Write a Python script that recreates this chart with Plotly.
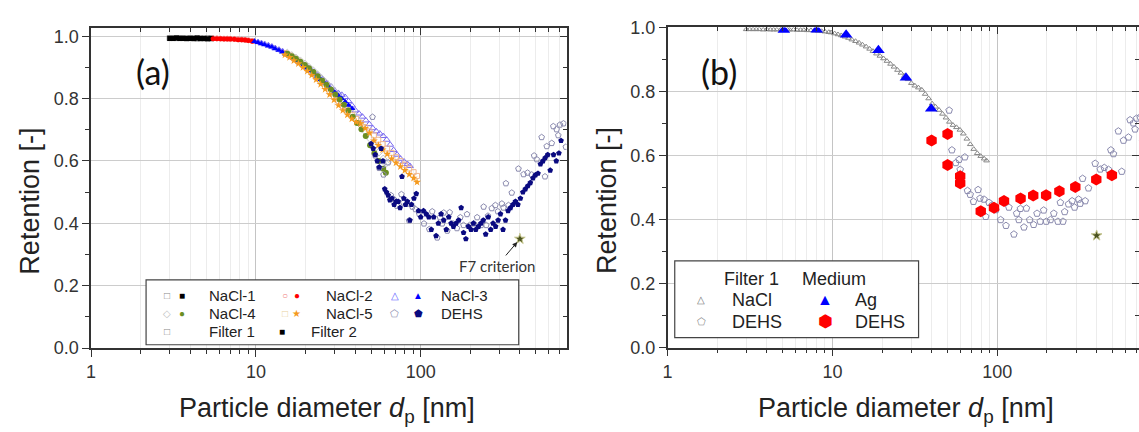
import math
import plotly.graph_objects as go

W, H = 1139, 432
ARIAL = "Liberation Sans, Arial, sans-serif"
CAL = "Lato, Carlito, sans-serif"

# ---------------- data ----------------
# NaCl-1 (black), Filter 1 open / Filter 2 filled
nacl1_d = [3.0, 3.15, 3.3, 3.45, 3.6, 3.8, 4.0, 4.2, 4.4, 4.6, 4.85, 5.1, 5.35]
nacl1_f1 = [0.994, 0.994, 0.994, 0.994, 0.994, 0.993, 0.994, 0.993, 0.993, 0.993, 0.993, 0.993, 0.993]
nacl1_f2 = [0.993, 0.993, 0.994, 0.993, 0.993, 0.993, 0.993, 0.993, 0.994, 0.993, 0.993, 0.992, 0.993]
# NaCl-2 (red)
nacl2_d = [5.5, 5.8, 6.1, 6.4, 6.7, 7.0, 7.4, 7.8, 8.2, 8.6, 9.0, 9.5]
nacl2_f1 = [0.993, 0.993, 0.992, 0.992, 0.992, 0.991, 0.991, 0.990, 0.989, 0.988, 0.987, 0.985]
nacl2_f2 = [0.992, 0.992, 0.992, 0.991, 0.991, 0.991, 0.990, 0.989, 0.989, 0.988, 0.986, 0.984]
# NaCl-3 (blue)
nacl3_d_f1 = [9.8, 10.3, 10.8, 11.3, 11.9, 12.5, 13.1, 13.8, 14.5, 15.2, 16.0, 16.8, 17.6, 18.5,
              19.4, 20.4, 21.4, 22.5, 23.6, 24.8, 26.0, 27.3, 28.7, 30.1, 31.6, 33.2, 34.8, 36.5,
              38.3, 40.2, 42.2, 44.3, 46.5, 48.8, 51.2, 53.8, 56.5, 59.3, 62.2, 65.3, 68.5, 71.9,
              75.5, 79.3, 83.2, 86.0]
nacl3_f1 = [0.984, 0.981, 0.978, 0.975, 0.971, 0.967, 0.962, 0.957, 0.952, 0.946, 0.940, 0.933,
            0.926, 0.918, 0.911, 0.903, 0.895, 0.886, 0.877, 0.867, 0.858, 0.848, 0.838, 0.826,
            0.818, 0.812, 0.805, 0.792, 0.778, 0.762, 0.752, 0.742, 0.730, 0.718, 0.705, 0.695,
            0.688, 0.680, 0.668, 0.652, 0.635, 0.620, 0.607, 0.598, 0.590, 0.584]
nacl3_d_f2 = [9.8, 10.3, 10.8, 11.3, 11.9, 12.5, 13.1, 13.8, 14.5, 15.2, 16.0, 16.8, 17.6, 18.5,
              19.4, 20.4, 21.4, 22.5, 23.6, 24.8, 26.0, 27.3, 28.7, 30.1, 31.6, 33.2, 34.8, 36.5,
              38.3]
nacl3_f2 = [0.983, 0.980, 0.976, 0.973, 0.969, 0.965, 0.960, 0.955, 0.949, 0.943, 0.937, 0.930,
            0.922, 0.914, 0.906, 0.898, 0.889, 0.880, 0.870, 0.861, 0.851, 0.841, 0.830, 0.820,
            0.810, 0.800, 0.790, 0.779, 0.768]
# NaCl-4 (olive)
nacl4_d = [15.5, 16.5, 17.5, 18.6, 19.8, 21.0, 22.3, 23.7, 25.2, 26.8, 28.5, 30.3, 32.2, 34.2,
           36.4, 38.7, 41.1, 43.7, 46.4, 49.3, 52.4, 55.7, 59.2, 61.5]
nacl4_f1 = [0.946, 0.938, 0.930, 0.921, 0.911, 0.900, 0.889, 0.876, 0.863, 0.849, 0.835, 0.820,
            0.804, 0.788, 0.771, 0.752, 0.733, 0.714, 0.694, 0.672, 0.650, 0.628, 0.606, 0.592]
nacl4_f2 = [0.944, 0.936, 0.928, 0.918, 0.908, 0.897, 0.885, 0.872, 0.858, 0.844, 0.829, 0.813,
            0.797, 0.780, 0.762, 0.742, 0.722, 0.702, 0.680, 0.650, 0.625, 0.600, 0.575, 0.562]
# NaCl-5 (orange)
nacl5_d = [15.0, 16.0, 17.0, 18.1, 19.3, 20.5, 21.8, 23.2, 24.7, 26.3, 28.0, 29.8, 31.7, 33.7,
           35.9, 38.2, 40.6, 43.2, 46.0, 48.9, 52.0, 55.3, 58.8, 62.6, 66.6, 70.8, 75.3, 80.1,
           85.2, 90.6, 95.0]
nacl5_f1 = [0.946, 0.938, 0.929, 0.919, 0.908, 0.896, 0.884, 0.870, 0.856, 0.840, 0.824, 0.808,
            0.792, 0.776, 0.762, 0.748, 0.735, 0.722, 0.708, 0.695, 0.682, 0.668, 0.654, 0.640,
            0.626, 0.612, 0.600, 0.588, 0.576, 0.564, 0.552]
nacl5_f2 = [0.940, 0.932, 0.922, 0.912, 0.900, 0.888, 0.875, 0.861, 0.846, 0.830, 0.813, 0.796,
            0.778, 0.762, 0.748, 0.735, 0.725, 0.720, 0.705, 0.690, 0.665, 0.650, 0.636, 0.622,
            0.607, 0.594, 0.582, 0.570, 0.557, 0.545, 0.532]
# DEHS, Filter 1 (open)
dehs_f1_d = [51, 53, 56, 58.6, 59.5, 63.5, 65.9, 68.4, 71.6, 76.4, 78.5, 83, 85, 89, 93, 98,
             104.7, 112.8, 117.5, 126, 131, 135, 138, 145, 150, 157, 166, 174, 182, 191, 198,
             210, 220, 233, 241, 250, 256, 270, 284, 294, 311, 318, 329, 341, 357, 392, 421,
             445, 472, 488, 506, 542, 568, 582, 624, 638, 668, 684, 700, 735, 760]
dehs_f1 = [0.741, 0.617, 0.577, 0.587, 0.556, 0.595, 0.490, 0.478, 0.456, 0.493, 0.466, 0.463,
           0.409, 0.453, 0.445, 0.430, 0.399, 0.381, 0.438, 0.354, 0.419, 0.399, 0.434, 0.376,
           0.435, 0.399, 0.384, 0.419, 0.394, 0.429, 0.394, 0.399, 0.419, 0.394, 0.453, 0.394,
           0.424, 0.448, 0.458, 0.438, 0.463, 0.450, 0.528, 0.458, 0.498, 0.575, 0.557, 0.562,
           0.556, 0.617, 0.605, 0.676, 0.550, 0.647, 0.657, 0.711, 0.701, 0.682, 0.716, 0.720,
           0.645]
# DEHS, Filter 2 (filled navy)
dehs_f2_d = [50, 51.5, 53, 54.5, 56, 57.5, 59, 60.5, 62, 63.5, 65, 67, 69, 71, 73, 75, 77, 79,
             81, 83, 86, 88, 91, 94, 97, 100, 104, 108, 112, 116, 120, 124, 128, 133, 138, 143,
             148, 153, 158, 164, 170, 176, 182, 188, 195, 202, 209, 216, 224, 232, 240, 248,
             257, 266, 275, 285, 295, 305, 316, 327, 339, 351, 363, 376, 389, 403, 417, 432,
             447, 463, 480, 497, 515, 533, 552, 570, 590, 611, 640, 665, 690, 711]
dehs_f2 = [0.655, 0.640, 0.620, 0.600, 0.580, 0.640, 0.600, 0.510, 0.500, 0.490, 0.475, 0.480,
           0.460, 0.470, 0.470, 0.450, 0.550, 0.480, 0.460, 0.470, 0.410, 0.460, 0.480, 0.495,
           0.440, 0.420, 0.440, 0.430, 0.420, 0.380, 0.420, 0.360, 0.400, 0.430, 0.410, 0.380,
           0.420, 0.400, 0.390, 0.400, 0.410, 0.450, 0.370, 0.350, 0.390, 0.380, 0.400, 0.380,
           0.390, 0.400, 0.410, 0.365, 0.420, 0.380, 0.400, 0.390, 0.410, 0.430, 0.380, 0.410,
           0.440, 0.450, 0.460, 0.470, 0.460, 0.480, 0.500, 0.510, 0.520, 0.530, 0.545, 0.555,
           0.560, 0.590, 0.600, 0.610, 0.620, 0.570, 0.620, 0.600, 0.625, 0.665]
# Panel (b): test medium
ag_d = [5.07, 8.03, 12.1, 19.0, 27.9, 39.7]
ag_r = [0.992, 0.993, 0.977, 0.929, 0.843, 0.746]
dehs_med_d = [39.9, 49.9, 49.9, 59.5, 59.5, 79.3, 95.4, 109.7, 138.3, 165, 197.6, 237.8, 297, 398, 495]
dehs_med_r = [0.647, 0.667, 0.570, 0.535, 0.513, 0.426, 0.437, 0.458, 0.466, 0.475, 0.476, 0.488,
              0.502, 0.525, 0.538]
# F7 criterion
f7_d = [400]
f7_r = [0.35]

# Panel (b) NaCl Filter 1 = combined Filter-1 NaCl data
nacl_f1b_d = nacl1_d + nacl2_d + nacl3_d_f1
nacl_f1b = nacl1_f1 + nacl2_f1 + nacl3_f1

# ---------------- figure ----------------
fig = go.Figure()


def add(x, y, sym, size, color, xa, ya, lw=1, lc=None):
    fig.add_trace(go.Scatter(
        x=x, y=y, mode="markers", xaxis=xa, yaxis=ya, showlegend=False, hoverinfo="skip",
        marker=dict(symbol=sym, size=size, color=color,
                    line=dict(width=lw, color=lc if lc else color))))


# panel (a)
add(nacl1_d, nacl1_f1, "square-open", 5, "#777777", "x", "y")
add(nacl3_d_f1, nacl3_f1, "triangle-up-open", 6, "#7b6cf0", "x", "y")
add(nacl4_d, nacl4_f1, "diamond-open", 6, "#c8c8c8", "x", "y")
add(nacl5_d, nacl5_f1, "square-open", 5, "#f0b890", "x", "y")
add(nacl2_d, nacl2_f1, "circle-open", 5, "#f08080", "x", "y")
add(nacl1_d, nacl1_f2, "square", 5, "#000000", "x", "y", 0)
add(nacl2_d, nacl2_f2, "circle", 5, "#ff0000", "x", "y", 0)
add(nacl3_d_f2, nacl3_f2, "triangle-up", 6, "#0000ff", "x", "y", 0)
add(nacl4_d, nacl4_f2, "circle", 6, "#6b8e23", "x", "y", 0)
add(nacl5_d, nacl5_f2, "star", 6, "#f59a1e", "x", "y", 0)
add(dehs_f1_d, dehs_f1, "pentagon-open", 6, "#8a8aae", "x", "y")
add(dehs_f2_d, dehs_f2, "pentagon", 6, "#0a0a80", "x", "y", 0)
add(f7_d, f7_r, "star", 8, "#4b5320", "x", "y", 1, "#c8c890")

# panel (b)
add(nacl_f1b_d, nacl_f1b, "triangle-up-open", 5, "#888888", "x2", "y2")
add(dehs_f1_d, dehs_f1, "pentagon-open", 7, "#8a8aae", "x2", "y2")
add(ag_d, ag_r, "triangle-up", 11, "#0000ff", "x2", "y2", 0)
add(dehs_med_d, dehs_med_r, "hexagon", 12, "#ff0000", "x2", "y2", 0)
add(f7_d, f7_r, "star", 8, "#4b5320", "x2", "y2", 1, "#c8c890")

# empty traces so that the inward mirror-tick axes exist
fig.add_trace(go.Scatter(x=[], y=[], xaxis="x3", yaxis="y3", showlegend=False))
fig.add_trace(go.Scatter(x=[], y=[], xaxis="x4", yaxis="y4", showlegend=False))

minor_vals = [m * 10 ** e for e in range(3) for m in range(2, 10)]
XR_A = [0, 2.885]
XR_B = [0, 2.859]
YR_A = [0, 1.025]
YR_B = [0, 1.0]
DOM_XA = [86.5 / W, 564 / W]
DOM_XB = [665.5 / W, 1.0]
DOM_YA = [1 - 354.5 / H, 1 - 19.3 / H]
DOM_YB = [1 - 354 / H, 1 - 18.3 / H]
AX = "#333333"


def xmain(rng, dom, anchor):
    return dict(type="log", range=rng, domain=dom, anchor=anchor, showline=True, linecolor=AX,
                linewidth=1.5, mirror=True, ticks="outside", ticklen=7, tickwidth=1.2,
                tickcolor=AX, tickvals=[1, 10, 100], ticktext=["1", "10", "100"],
                showgrid=True, gridcolor="#c4c4c4", gridwidth=1, zeroline=False,
                tickfont=dict(family=ARIAL, size=18, color="#333"),
                minor=dict(tickvals=minor_vals, ticks="outside", ticklen=4, tickcolor=AX,
                           showgrid=True, gridcolor="#ececec", gridwidth=1))


def ymain(rng, dom, anchor, mirror=True):
    return dict(range=rng, domain=dom, anchor=anchor, showline=True, linecolor=AX,
                linewidth=1.5, mirror=mirror, ticks="outside", ticklen=7, tickwidth=1.2,
                tickcolor=AX, dtick=0.2, tick0=0, tickformat=".1f", showgrid=True,
                gridcolor="#cccccc", gridwidth=1, zeroline=False,
                tickfont=dict(family=ARIAL, size=18, color="#333"),
                minor=dict(dtick=0.1, ticks="outside", ticklen=4, tickcolor=AX, showgrid=False))


def xtop(rng, over, anchor):
    return dict(type="log", range=rng, overlaying=over, anchor=anchor, side="top",
                showline=False, showgrid=False, zeroline=False, ticks="inside", ticklen=7,
                tickwidth=1.2, tickcolor=AX, tickvals=[1, 10, 100], showticklabels=False,
                minor=dict(tickvals=minor_vals, ticks="inside", ticklen=4, tickcolor=AX,
                           showgrid=False))


def yright(rng, over, anchor):
    return dict(range=rng, overlaying=over, anchor=anchor, side="right", showline=False,
                showgrid=False, zeroline=False, ticks="inside", ticklen=7, tickwidth=1.2,
                tickcolor=AX, dtick=0.2, tick0=0, showticklabels=False,
                minor=dict(dtick=0.1, ticks="inside", ticklen=4, tickcolor=AX, showgrid=False))


fig.update_layout(
    width=W, height=H, margin=dict(l=0, r=0, t=0, b=0),
    paper_bgcolor="white", plot_bgcolor="white", showlegend=False,
    xaxis=xmain(XR_A, DOM_XA, "y"), yaxis=ymain(YR_A, DOM_YA, "x"),
    xaxis2=xmain(XR_B, DOM_XB, "y2"), yaxis2=ymain(YR_B, DOM_YB, "x2", mirror=False),
    xaxis3=xtop(XR_A, "x", "y3"), yaxis3=yright(YR_A, "y", "x3"),
    xaxis4=xtop(XR_B, "x2", "y4"), yaxis4=yright(YR_B, "y2", "x4"),
)

anns = []


def ann(text, x, y, size, color="#222", xanchor="left", family=ARIAL, angle=0):
    anns.append(dict(text=text, x=x / W, y=1 - y / H, xref="paper", yref="paper",
                     showarrow=False, xanchor=xanchor, yanchor="middle", textangle=angle,
                     font=dict(family=family, size=size, color=color)))


# axis titles
for cx in (323, 905):
    ann("Particle diameter <i>d</i><sub>p</sub> [nm]", cx, 419, 27, "#222", "center")
for cx in (25, 604):
    ann("Retention [-]", cx, 200, 27, "#222", "center", angle=-90)

# panel labels
ann("(a)", 149, 64, 34, "#111", "center", CAL)
ann("(b)", 717, 65, 34, "#111", "center", CAL)

# legend (a)
G = 10
rows = [299.3, 318.3, 336.7]
ann("□", 163, rows[0], G, "#888", "center"); ann("■", 178, rows[0], G, "#000", "center")
ann("NaCl-1", 202.7, rows[0], 15)
ann("○", 281.7, rows[0], G, "#f08080", "center"); ann("●", 293, rows[0], G, "#ff0000", "center")
ann("NaCl-2", 320, rows[0], 15)
ann("△", 391.7, rows[0], G, "#6060ff", "center"); ann("▲", 415, rows[0], G, "#0000ff", "center")
ann("NaCl-3", 436, rows[0], 15)
ann("◇", 163, rows[1], G, "#c0c0c0", "center"); ann("●", 178, rows[1], G, "#6b8e23", "center")
ann("NaCl-4", 202.7, rows[1], 15)
ann("□", 281.7, rows[1], G, "#e8d0a0", "center"); ann("★", 293, rows[1], G, "#f59a1e", "center")
ann("NaCl-5", 320, rows[1], 15)
ann("⬠", 391.7, rows[1], G, "#8888aa", "center"); ann("⬟", 415, rows[1], G, "#0a0a80", "center")
ann("DEHS", 436, rows[1], 15)
ann("□", 163, rows[2], G, "#888", "center")
ann("Filter 1", 202.7, rows[2], 15)
ann("■", 278, rows[2], G, "#000", "center")
ann("Filter 2", 305, rows[2], 15)

# legend (b)
ann("Filter 1", 749.5, 281.7, 18, "#222", "center")
ann("Medium", 833, 281.7, 18, "#222", "center")
ann("△", 699.5, 304, 10, "#777", "center"); ann("NaCl", 728.6, 304, 18)
ann("⬠", 699.5, 326.7, 10, "#888", "center"); ann("DEHS", 728.6, 326.7, 18)
ann("▲", 824, 304, 16, "#0000ff", "center"); ann("Ag", 852, 304, 18)
ann("⬢", 824, 326.7, 17, "#ff0000", "center"); ann("DEHS", 852, 326.7, 18)

# F7 criterion arrow annotation (panel a)
anns.append(dict(text="F7 criterion", x=math.log10(f7_d[0]), y=f7_r[0], xref="x", yref="y",
                 showarrow=True, ax=-23, ay=27, arrowhead=2, arrowsize=1, arrowwidth=1,
                 arrowcolor="#222", standoff=4,
                 font=dict(family=CAL, size=15, color="#333")))

fig.update_layout(annotations=anns)

shapes = [
    dict(type="rect", xref="paper", yref="paper", x0=141.7 / W, x1=516 / W,
         y0=1 - 351 / H, y1=1 - 283 / H, line=dict(color="#444", width=1.2),
         fillcolor="white", layer="above"),
    dict(type="rect", xref="paper", yref="paper", x0=672.7 / W, x1=917.6 / W,
         y0=1 - 343.5 / H, y1=1 - 263 / H, line=dict(color="#444", width=1.2),
         fillcolor="white", layer="above"),
]
fig.update_layout(shapes=shapes)

fig.write_html(
    "out.html",
    config={"displayModeBar": False},
    post_script="document.body.style.margin='0';document.body.style.overflow='hidden';",
)
